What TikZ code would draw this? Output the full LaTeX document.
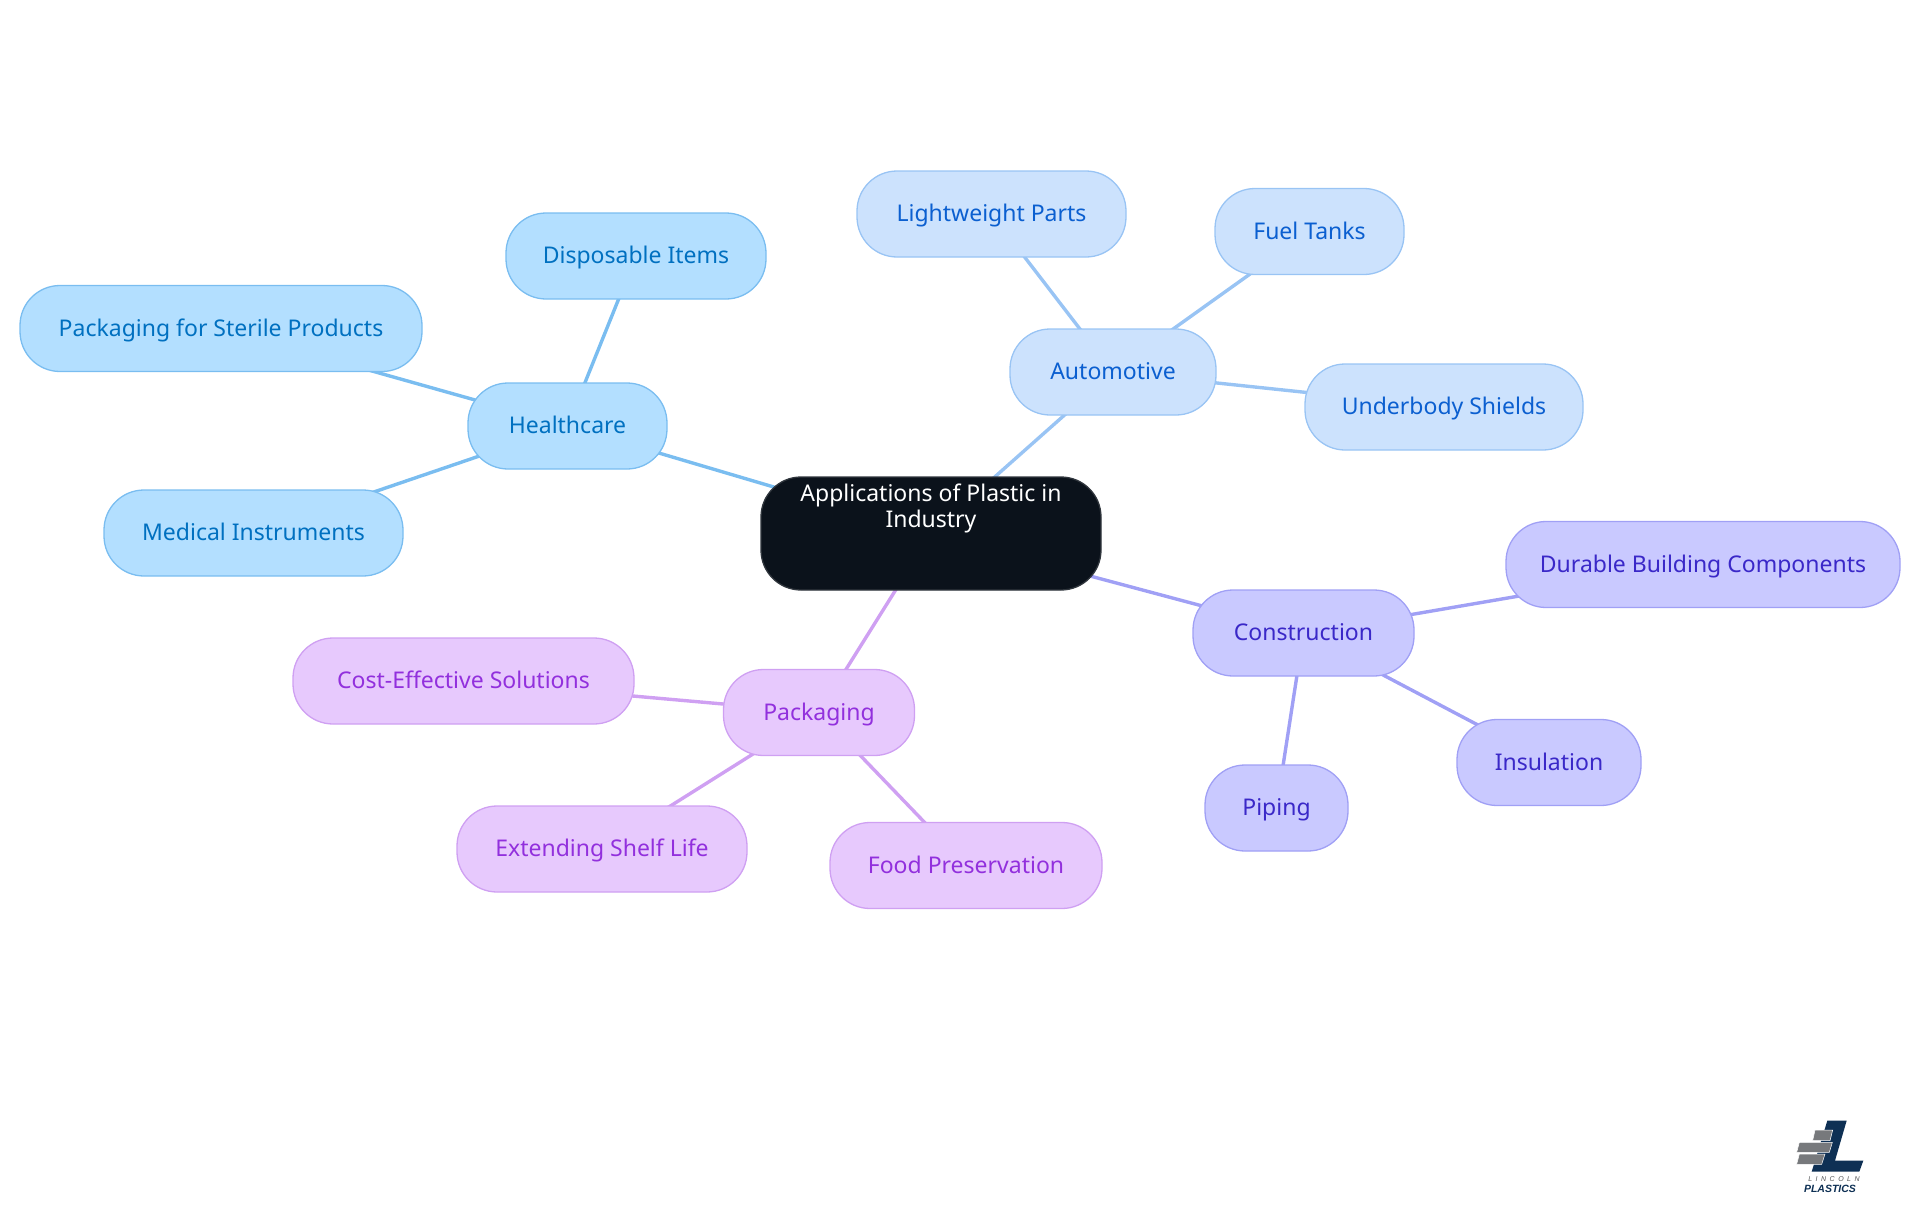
\documentclass[tikz,border=0pt]{standalone}
\usepackage{fontspec}
\setmainfont{Noto Sans}
\newfontfamily\logofont{Liberation Sans}
\usetikzlibrary{backgrounds}
\definecolor{healthfill}{HTML}{B3DFFF}
\definecolor{healthdraw}{HTML}{7ABDF0}
\definecolor{healthtext}{HTML}{0070C0}
\definecolor{autofill}{HTML}{CCE2FD}
\definecolor{autodraw}{HTML}{99C4F4}
\definecolor{autotext}{HTML}{0B5FD0}
\definecolor{constrfill}{HTML}{C9C9FF}
\definecolor{constrdraw}{HTML}{A0A0F5}
\definecolor{constrtext}{HTML}{3A28C8}
\definecolor{packfill}{HTML}{E7C9FD}
\definecolor{packdraw}{HTML}{CFA0F2}
\definecolor{packtext}{HTML}{9230DD}
\definecolor{rootfill}{HTML}{0B121B}
\definecolor{logonavy}{HTML}{0E3054}
\definecolor{logogray}{HTML}{77797C}
\tikzset{
    pillbox/.style={rectangle, rounded corners=40pt, minimum height=86pt, inner sep=0pt,
        text height=20pt, text depth=5pt, text centered, line width=1.3pt,
        font=\fontsize{23}{26}\selectfont},
    rootbox/.style={pillbox, minimum width=340pt, minimum height=113pt, draw=rootfill!85!white,
        fill=rootfill, text=white, align=center, text depth=33pt},
    healthbox/.style={pillbox, draw=healthdraw, fill=healthfill, text=healthtext},
    autobox/.style={pillbox, draw=autodraw, fill=autofill, text=autotext},
    constrbox/.style={pillbox, draw=constrdraw, fill=constrfill, text=constrtext},
    packbox/.style={pillbox, draw=packdraw, fill=packfill, text=packtext},
    healthline/.style={line width=3.4pt, healthdraw},
    autoline/.style={line width=3.4pt, autodraw},
    constrline/.style={line width=3.4pt, constrdraw},
    packline/.style={line width=3.4pt, packdraw},
    brick/.style={fill=logogray, draw=white, line width=0.5pt},
}
\begin{document}
\begin{tikzpicture}[x=1pt, y=-1pt]
    \useasboundingbox (0,0) rectangle (1920,1215);

    \node[rootbox] (root) at (931,533.5) {Applications of Plastic in\\Industry};

    \node[healthbox, minimum width=199pt] (health) at (567.5,426) {Healthcare};
    \node[healthbox, minimum width=260pt] (disposable) at (636,256) {Disposable Items};
    \node[healthbox, minimum width=402pt] (sterile) at (221,328.5) {Packaging for Sterile Products};
    \node[healthbox, minimum width=299pt] (medical) at (253.5,533) {Medical Instruments};

    \node[autobox, minimum width=206pt] (auto) at (1113,372) {Automotive};
    \node[autobox, minimum width=269pt] (light) at (991.5,214) {Lightweight Parts};
    \node[autobox, minimum width=189pt] (fuel) at (1309.5,231.5) {Fuel Tanks};
    \node[autobox, minimum width=278pt] (under) at (1444,407) {Underbody Shields};

    \node[constrbox, minimum width=221pt] (constr) at (1303.5,633) {Construction};
    \node[constrbox, minimum width=394pt] (durable) at (1703,564.5) {Durable Building Components};
    \node[constrbox, minimum width=184pt] (insul) at (1549,762.5) {Insulation};
    \node[constrbox, minimum width=143pt] (piping) at (1276.5,808) {Piping};

    \node[packbox, minimum width=191pt] (pack) at (819,712.5) {Packaging};
    \node[packbox, minimum width=341pt] (cost) at (463.5,681) {Cost-Effective Solutions};
    \node[packbox, minimum width=290pt] (shelf) at (602,849) {Extending Shelf Life};
    \node[packbox, minimum width=272pt] (food) at (966,865.5) {Food Preservation};

    \begin{scope}[on background layer]
        \draw[healthline] (root.center) -- (health.center);
        \draw[healthline] (health.center) -- (disposable.center);
        \draw[healthline] (health.center) -- (sterile.center);
        \draw[healthline] (health.center) -- (medical.center);
        \draw[autoline] (root.center) -- (auto.center);
        \draw[autoline] (auto.center) -- (light.center);
        \draw[autoline] (auto.center) -- (fuel.center);
        \draw[autoline] (auto.center) -- (under.center);
        \draw[constrline] (root.center) -- (constr.center);
        \draw[constrline] (constr.center) -- (durable.center);
        \draw[constrline] (constr.center) -- (insul.center);
        \draw[constrline] (constr.center) -- (piping.center);
        \draw[packline] (root.center) -- (pack.center);
        \draw[packline] (pack.center) -- (cost.center);
        \draw[packline] (pack.center) -- (shelf.center);
        \draw[packline] (pack.center) -- (food.center);
    \end{scope}

    \begin{scope}[shift={(1770,1100)}, x=0.3333pt, y=-0.3333pt]
        \fill[logonavy] (172,62) -- (230,62) -- (195,182) -- (280,182) -- (268,215) -- (125,215) -- cycle;
        \draw[brick] (135,90) -- (188,90) -- (180,122) -- (128,122) -- cycle;
        \draw[brick] (88,127) -- (187,127) -- (178,157) -- (80,157) -- cycle;
        \draw[brick] (88,162) -- (165,162) -- (155,193) -- (80,193) -- cycle;
        \node[text=logogray!70!black, font=\logofont\itshape\fontsize{7}{7}\selectfont, inner sep=0pt] (lincoln) at (192,236) {L\,\,\,I\,\,\,N\,\,\,C\,\,\,O\,\,\,L\,\,\,N};
        \node[text=logonavy, font=\logofont\bfseries\itshape\fontsize{10.5}{12}\selectfont, inner sep=0pt] (plastics) at (180,266) {PLASTICS};
    \end{scope}
\end{tikzpicture}
\end{document}
